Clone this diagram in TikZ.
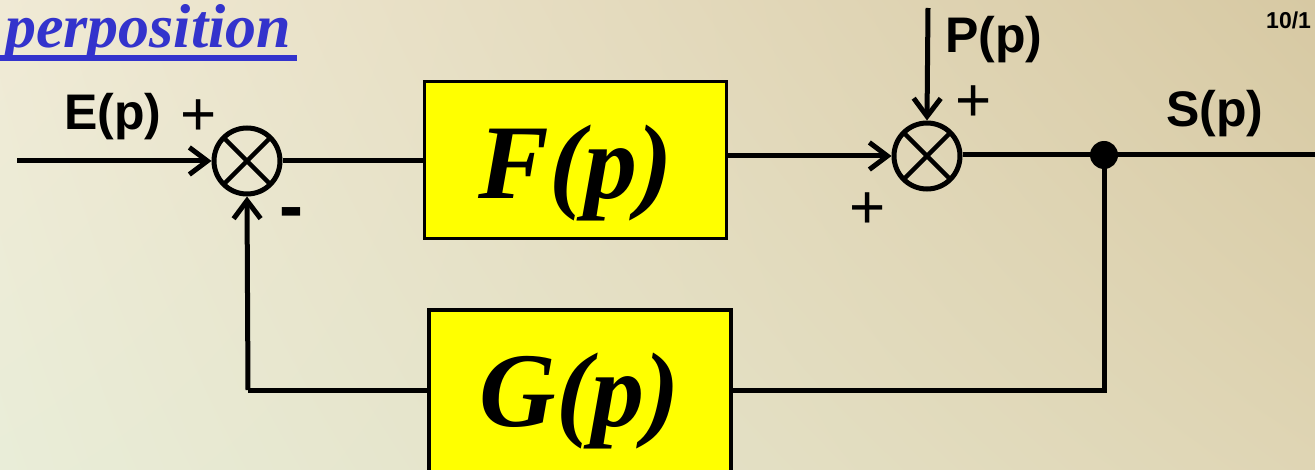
\documentclass[tikz,border=0pt]{standalone}
\usepackage{fontspec}
\setmainfont{Liberation Sans}
\newfontfamily\timesf{Liberation Serif}
\usetikzlibrary{arrows.meta,shadings}
\definecolor{titleblue}{RGB}{51,51,204}
\definecolor{boxyellow}{RGB}{255,255,0}
\definecolor{bgUL}{RGB}{240,234,213}
\definecolor{bgLL}{RGB}{233,237,216}
\definecolor{bgUR}{RGB}{215,201,163}
\definecolor{bgLR}{RGB}{223,213,180}
\begin{document}
\begin{tikzpicture}[x=1pt,y=-1pt,
  wire/.style={line width=5pt},
  arr/.style={wire,-{Straight Barb[length=18pt,width=27pt,line width=5pt]}},
  sumnode/.style={circle, draw, minimum size=66pt, inner sep=0pt, line width=5pt,
    path picture={\draw[line width=4.5pt]
      (path picture bounding box.north west) -- (path picture bounding box.south east)
      (path picture bounding box.north east) -- (path picture bounding box.south west);}},
  blk/.style={draw, fill=boxyellow, line width=3.5pt, minimum width=302pt, inner sep=0pt,
    font=\timesf\bfseries\itshape\fontsize{106}{106}\selectfont},
  lbl/.style={font=\bfseries\fontsize{50}{50}\selectfont, inner sep=0pt},
  sgn/.style={font=\fontsize{62}{62}\selectfont, inner sep=0pt},
  dotnode/.style={circle, fill, minimum size=28pt, inner sep=0pt}
]
\useasboundingbox (0,0) rectangle (1315,470);
\shade[upper left=bgUL, lower left=bgLL, upper right=bgUR, lower right=bgLR] (0,0) rectangle (1315,470);
\clip (0,0) rectangle (1315,470);

% title
\node[anchor=base west, inner sep=0pt, text=titleblue, text height=40pt, text depth=8pt,
  font=\timesf\bfseries\itshape\fontsize{62}{62}\selectfont] (title) at (5,48) {perposition};
\fill[titleblue] (0,55) rectangle (297,61);

\node[anchor=base west, inner sep=0pt, font=\bfseries\fontsize{23}{23}\selectfont] (page) at (1266,29) {10/1};

% blocks
\node[sumnode] (s1) at (247,161) {};
\node[sumnode] (s2) at (927,156) {};
\node[blk, minimum height=157pt] (F) at (575.5,160) {\raisebox{-13pt}[\height][\depth]{F(p)}};
\node[blk, minimum height=176pt] (G) at (580,398) {\raisebox{-3pt}[\height][\depth]{G(p)}};
\node[dotnode] (d) at (1104,155) {};

% labels
\node[lbl] (E) at (113,117) {E(p)};
\node[lbl] (P) at (994,40) {P(p)};
\node[lbl] (S) at (1215,114) {S(p)};
\node[sgn] (pl1) at (199,118) {+};
\node[sgn] (pl2) at (974,104) {+};
\node[sgn] (pl3) at (868,211) {+};
\node[font=\bfseries\fontsize{72}{72}\selectfont, inner sep=0pt] (mn) at (291,219) {-};

% connectors
\coordinate (ein) at (17,161);
\coordinate (pin) at (928,8);
\coordinate (sout) at (1320,155);
\coordinate (fbr) at (1104,390);
\coordinate (fbl) at (248,390);

\draw[arr] (ein) -- (s1.west);
\draw[wire] (s1.east) -- (s1.east -| F.west);
\draw[arr] (F.east |- s2.west) -- (s2.west);
\draw[arr] (pin) -- (s2.north);
\draw[wire] (d -| s2.east) -- (d.center) -- (sout);
\draw[wire] (d.center) -- (fbr) -- (fbr -| G.east);
\draw[wire] (G.west |- fbl) -- (fbl);
\draw[arr] (fbl) -- (s1.south);
\end{tikzpicture}
\end{document}
